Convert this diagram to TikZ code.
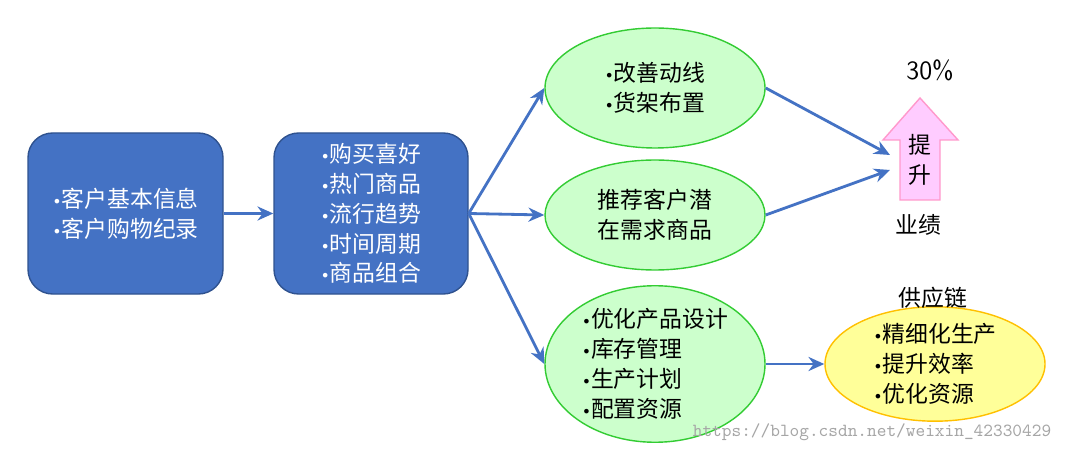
\documentclass[tikz,border=0pt]{standalone}
\usepackage{fontspec}
\newfontfamily\cjk{Noto Sans CJK SC}
\newfontfamily\bulf{DejaVu Sans}
\newcommand{\bu}{{\bulf\fontsize{9}{9}\selectfont •}}
\usetikzlibrary{shapes.geometric,arrows.meta}
\definecolor{bbox}{HTML}{4472C4}
\definecolor{bborder}{HTML}{2F528F}
\definecolor{gfill}{HTML}{CCFFCC}
\definecolor{gborder}{HTML}{33CC33}
\definecolor{yfill}{HTML}{FFFF99}
\definecolor{yborder}{HTML}{FFC000}
\definecolor{pfill}{HTML}{FFCCFF}
\definecolor{pborder}{HTML}{FF99CC}
\definecolor{arr}{HTML}{4472C4}
\tikzset{
 bluebox/.style={draw=bborder,fill=bbox,rounded corners=14pt,line width=0.8pt,text=white,align=left,font=\cjk\fontsize{13}{17}\selectfont},
 greenell/.style={ellipse,draw=gborder,fill=gfill,line width=0.8pt,align=left,font=\cjk\fontsize{13}{17}\selectfont,inner sep=0pt},
 yellowell/.style={ellipse,draw=yborder,fill=yfill,line width=0.8pt,align=left,font=\cjk\fontsize{13}{17}\selectfont,inner sep=0pt},
 conn/.style={draw=arr,line width=1.6pt,-{Stealth[length=9pt,width=8pt]}},
 lbl/.style={font=\cjk\fontsize{13}{17}\selectfont}
}
\begin{document}
\begin{tikzpicture}[x=0.02cm,y=-0.02cm]
\fill[white] (0,0) rectangle (1067,452);
\node[bluebox,minimum width=195*0.02cm,minimum height=161*0.02cm] (b1) at (125.5,213.5) {\bu 客户基本信息\\\bu 客户购物纪录};
\node[bluebox,minimum width=194*0.02cm,minimum height=161*0.02cm] (b2) at (371,213.5) {\bu 购买喜好\\\bu 热门商品\\\bu 流行趋势\\\bu 时间周期\\\bu 商品组合};
\node[greenell,minimum width=220*0.02cm,minimum height=120*0.02cm] (e1) at (655,88) {\bu 改善动线\\\bu 货架布置};
\node[greenell,minimum width=220*0.02cm,minimum height=110*0.02cm,align=center] (e2) at (655,215) {推荐客户潜\\在需求商品};
\node[greenell,minimum width=220*0.02cm,minimum height=125*0.02cm] (e3) at (655,364) {\bu 优化产品设计\\\bu 库存管理\\\bu 生产计划\\\bu 配置资源};
\node[yellowell,minimum width=220*0.02cm,minimum height=100*0.02cm] (e4) at (935,364) {\bu 精细化生产\\\bu 提升效率\\\bu 优化资源};
\draw[draw=pborder,fill=pfill,line width=0.8pt] (920,98) -- (958,140) -- (940,140) -- (940,200) -- (900,200) -- (900,140) -- (883,140) -- cycle;
\node[lbl,align=center,inner sep=0pt] (up) at (920,160) {提\\升};
\coordinate (t1) at (890,155);
\coordinate (t2) at (890,170);
\node[lbl,font=\fontfamily{cmss}\sffamily\fontsize{15}{18}\selectfont] (p) at (930,70) {30\%};
\node[lbl] (yj) at (918,225) {业绩};
\node[lbl] (gyl) at (933,298) {供应链};
\draw[conn] (b1.east) -- (b2.west);
\draw[conn] (b2.east) -- (e1.west);
\draw[conn] (b2.east) -- (e2.west);
\draw[conn] (b2.east) -- (e3.west);
\draw[conn] (e1.east) -- (t1);
\draw[conn] (e2.east) -- (t2);
\draw[conn] (e3.east) -- (e4.west);
\node[font=\ttfamily\fontsize{10.5}{12}\selectfont,text=gray!70] (wm) at (872,432) {https://blog.csdn.net/weixin\_42330429};
\end{tikzpicture}
\end{document}
